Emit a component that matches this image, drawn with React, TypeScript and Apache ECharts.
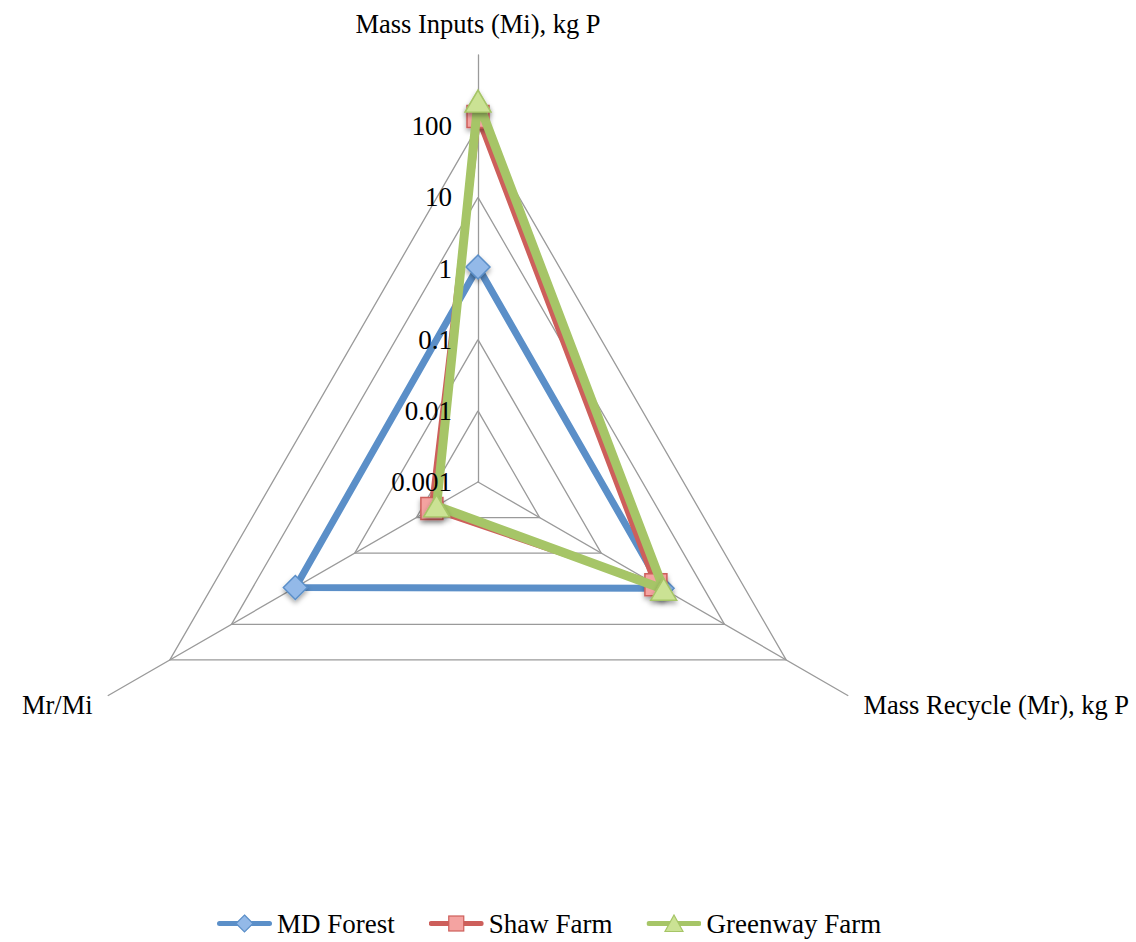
import React, { useEffect, useRef } from 'react';
import * as echarts from 'echarts';

// Radar axes, laid out counter-clockwise starting from the top
const axisNames = ['Mass Inputs (Mi), kg P', 'Mr/Mi', 'Mass Recycle (Mr), kg P'];

// Radial scale is logarithmic: 10^-3 at the centre, 10^3 at the rim
const logMin = -3;
const logMax = 3;
const tickLabels = ['0.001', '0.01', '0.1', '1', '10', '100', ''];

const seriesNames = ['MD Forest', 'Shaw Farm', 'Greenway Farm'];

// Values in axis order: [Mi (kg P), Mr/Mi, Mr (kg P)]
const mdForest = [1.05, 0.92, 0.97];
const shawFarm = [137, 0.0056, 0.77];
const greenwayFarm = [225, 0.0047, 1.03];

const FONT = '"Liberation Serif", "Times New Roman", serif';
const GRID = '#9a9a9a';
const CENTER = [478, 482];
const RADIUS = 427;

type Look = {
  line: string;
  width: number;
  fill: string;
  symbol: string;
  size: number | number[];
};

const looks: Look[] = [
  { line: '#5B8FC8', width: 7, fill: '#93B9E8', symbol: 'diamond', size: 24 },
  { line: '#CD5F5B', width: 6.5, fill: '#F4A3A1', symbol: 'rect', size: 22 },
  { line: '#A6C567', width: 9, fill: '#CBE294', symbol: 'triangle', size: [26, 22] },
];

// Legend swatch: a short thick line with the series marker in the middle
function legendIcon(look: Look): string {
  let marker = '';
  if (look.symbol === 'diamond') {
    marker = `<polygon points="27.5,1.5 36,10 27.5,18.5 19,10" fill="${look.fill}" stroke="${look.line}" stroke-width="1.2"/>`;
  } else if (look.symbol === 'rect') {
    marker = `<rect x="20" y="2.5" width="15" height="15" fill="${look.fill}" stroke="${look.line}" stroke-width="1.2"/>`;
  } else {
    marker = `<polygon points="27.5,1.5 36.5,18 18.5,18" fill="${look.fill}" stroke="${look.line}" stroke-width="1.2"/>`;
  }
  const svg =
    `<svg xmlns="http://www.w3.org/2000/svg" width="55" height="20" viewBox="0 0 55 20">` +
    `<line x1="2.5" y1="10" x2="52.5" y2="10" stroke="${look.line}" stroke-width="5" stroke-linecap="round"/>` +
    marker +
    `</svg>`;
  return 'image://data:image/svg+xml;charset=utf-8,' + encodeURIComponent(svg);
}

const tickLabelStyle = {
  show: false,
  margin: 26,
  color: '#000',
  fontSize: 27,
  fontFamily: FONT,
  formatter: (v: number) => tickLabels[Math.round(v - logMin)] ?? '',
};

export default function App() {
  const ref = useRef<HTMLDivElement>(null);

  useEffect(() => {
    if (!ref.current) return;
    const chart = echarts.init(ref.current, undefined, { renderer: 'svg' });

    const allValues = [mdForest, shawFarm, greenwayFarm];

    const option: any = {
      animation: false,
      backgroundColor: '#ffffff',
      textStyle: { fontFamily: FONT },
      legend: {
        left: 217,
        top: 910,
        padding: 0,
        itemWidth: 55,
        itemHeight: 20,
        itemGap: 34,
        selectedMode: false,
        textStyle: { fontFamily: FONT, fontSize: 27, color: '#000' },
        data: seriesNames.map((name, i) => ({
          name,
          icon: legendIcon(looks[i]),
        })),
      },
      radar: [
        // grid, spokes and axis names, beneath the series
        {
          z: 0,
          center: CENTER,
          radius: RADIUS,
          startAngle: 90,
          shape: 'polygon',
          splitNumber: 6,
          axisNameGap: 18,
          axisName: { color: '#000', fontSize: 26.5, fontFamily: FONT },
          indicator: axisNames.map((name) => ({ name, min: logMin, max: logMax })),
          axisLine: { show: true, lineStyle: { color: GRID, width: 1.3 } },
          axisTick: { show: false },
          splitArea: { show: false },
          splitLine: {
            show: true,
            lineStyle: {
              color: [GRID, GRID, GRID, GRID, GRID, GRID, 'rgba(0,0,0,0)'],
              width: 1.3,
            },
          },
          axisLabel: tickLabelStyle,
        },
        // tick labels on the top spoke, drawn above the series
        {
          z: 10,
          center: CENTER,
          radius: RADIUS,
          startAngle: 90,
          shape: 'polygon',
          splitNumber: 6,
          axisName: { show: false },
          indicator: axisNames.map((name, i) => {
            const ind: any = { name, min: logMin, max: logMax };
            if (i === 0) ind.axisLabel = { show: true };
            return ind;
          }),
          axisLine: { show: false },
          axisTick: { show: false },
          splitArea: { show: false },
          splitLine: { show: false },
          axisLabel: tickLabelStyle,
        },
      ],
      series: seriesNames.map((name, i) => ({
        type: 'radar',
        name,
        radarIndex: 0,
        z: 2 + i,
        symbol: looks[i].symbol,
        symbolSize: looks[i].size,
        lineStyle: { color: looks[i].line, width: looks[i].width },
        itemStyle: {
          color: looks[i].fill,
          borderColor: looks[i].line,
          borderWidth: 1.5,
          shadowBlur: 5,
          shadowOffsetY: 3,
          shadowColor: 'rgba(0,0,0,0.35)',
        },
        emphasis: { disabled: true },
        data: [
          {
            name,
            value: allValues[i].map((v) => Math.log10(v)),
          },
        ],
      })),
    };

    chart.setOption(option);
    return () => chart.dispose();
  }, []);

  return (
    <div
      ref={ref}
      style={{ position: 'absolute', left: 0, top: 0, width: 1136, height: 942 }}
    />
  );
}
